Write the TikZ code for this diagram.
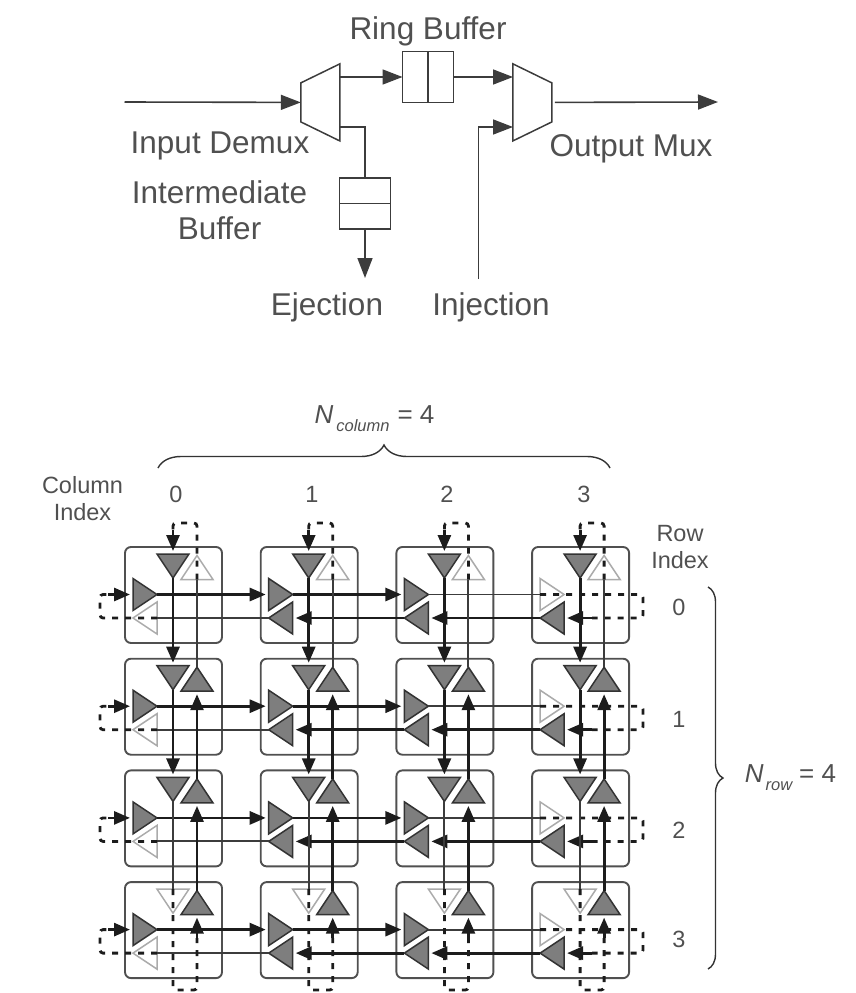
\documentclass[tikz,border=0pt]{standalone}
\usepackage{fontspec}
\setmainfont{Liberation Sans}
\usetikzlibrary{arrows.meta, shapes.geometric, decorations.pathreplacing}
\definecolor{wirecol}{HTML}{1C1C1C}
\definecolor{thincol}{HTML}{3C3C3C}
\definecolor{textcol}{HTML}{505050}
\definecolor{trifill}{HTML}{7E7E7E}
\definecolor{tridraw}{HTML}{333333}
\definecolor{offdraw}{HTML}{ABABAB}
\definecolor{boxdraw}{HTML}{505050}
\tikzset{
	bigtext/.style={text=textcol, font=\fontsize{31.5}{36}\selectfont, align=center, inner sep=0pt},
	smalltext/.style={text=textcol, font=\fontsize{23.5}{27}\selectfont, align=center, inner sep=0pt},
	bufbox/.style={draw=thincol, line width=1.5pt, minimum width=51pt, minimum height=51pt, inner sep=0pt, outer sep=0pt},
	muxshape/.style={trapezium, draw=thincol, line width=1.5pt, trapezium left angle=64, trapezium right angle=64, minimum width=77pt, minimum height=39pt, inner sep=1pt, outer sep=0pt},
	flow/.style={draw=thincol, line width=1.6pt},
	flowarr/.style={flow, -{Triangle[length=20pt,width=15pt]}},
	routerbox/.style={draw=boxdraw, line width=1.9pt, rounded corners=6pt, minimum width=97pt, minimum height=96pt, inner sep=0pt},
	tribase/.style={isosceles triangle, isosceles triangle stretches, inner sep=1pt, outer sep=0pt, minimum width=32pt, minimum height=24pt, anchor=lower side, preaction={draw=white, line width=4.5pt}},
	tripon/.style={tribase, draw=tridraw, fill=trifill, line width=1.5pt},
	tripoff/.style={tribase, draw=offdraw, fill=white, line width=1.5pt},
	wireon/.style={draw=wirecol, line width=2.8pt, -{Triangle[length=16pt,width=13pt]}, shorten >=3pt},
	wireoff/.style={draw=thincol, line width=1.9pt},
	wiredash/.style={draw=wirecol, line width=2.8pt, dash pattern=on 6pt off 7pt, rounded corners=3pt},
}
\begin{document}
\begin{tikzpicture}[x=1pt, y=-1pt]
	\useasboundingbox (0,0) rectangle (856,993);

	\node[muxshape, rotate=90] (demux) at (320.3,102.4) {};
	\node[muxshape, rotate=-90] (mux) at (532.4,102.4) {};
	\node[bufbox] (ringbuf) at (428,77) {};
	\node[bufbox] (interbuf) at (365,203.5) {};
	\draw[flow] (ringbuf.north) -- (ringbuf.south);
	\draw[flow] (interbuf.west) -- (interbuf.east);
	\coordinate (inport) at (124.5,102);
	\coordinate (outport) at (718,102);
	\coordinate (demuxa) at (340,77);
	\coordinate (demuxb) at (340,127);
	\coordinate (muxa) at (513,77);
	\coordinate (muxb) at (513,127);
	\coordinate (ejectend) at (365,278);
	\coordinate (injectend) at (478.4,279);
	\draw[flowarr] (inport) -- (demux.top side);
	\draw[flowarr] (demuxa) -- (ringbuf.west);
	\draw[flowarr] (ringbuf.east) -- (muxa);
	\draw[flowarr, shorten <=3pt] (mux.top side) -- (outport);
	\draw[flow] (demuxb) -| (interbuf.north);
	\draw[flowarr] (interbuf.south) -- (ejectend);
	\draw[flowarr] (injectend) |- (muxb);

	\node[bigtext] (ringlabel) at (428,31) {Ring Buffer};
	\node[bigtext] (demuxlabel) at (220,146) {Input Demux};
	\node[bigtext] (bufferlabel) at (219.5,210) {Intermediate\\Buffer};
	\node[bigtext] (ejectlabel) at (327,307) {Ejection};
	\node[bigtext] (injectlabel) at (491,307) {Injection};
	\node[bigtext] (muxlabel) at (631,149) {Output Mux};

	\foreach \r in {0,...,3} {
		\foreach \c in {0,...,3} {
			\pgfmathsetmacro\bx{125+135.7*\c}
			\pgfmathsetmacro\by{547+111.7*\r}
			\ifnum\c=3 \def\estyle{tripoff}\else\def\estyle{tripon}\fi
			\ifnum\c=0 \def\wstyle{tripoff}\else\def\wstyle{tripon}\fi
			\ifnum\r=3 \def\sstyle{tripoff}\else\def\sstyle{tripon}\fi
			\ifnum\r=0 \def\nstyle{tripoff}\else\def\nstyle{tripon}\fi
			\node[routerbox] (b\r\c) at (\bx+48.5,\by+48) {};
			\node[\sstyle, shape border rotate=270] (s\r\c) at (\bx+48,\by+7) {};
			\node[\nstyle, shape border rotate=90] (n\r\c) at (\bx+72,\by+32.5) {};
			\node[\estyle, shape border rotate=0] (e\r\c) at (\bx+8,\by+47.5) {};
			\node[\wstyle, shape border rotate=180] (w\r\c) at (\bx+32,\by+71) {};
		}
	}

	\foreach \r in {0,...,3} {
		\foreach \c/\nx in {0/1,1/2} \draw[wireon] (e\r\c.apex) -- (e\r\nx.lower side);
		\draw[wireoff] (e\r2.apex) -- (e\r3.lower side);
		\foreach \c/\nx in {3/2,2/1} \draw[wireon] (w\r\c.apex) -- (w\r\nx.lower side);
		\draw[wireoff] (w\r1.apex) -- (w\r0.lower side);
		\pgfmathsetmacro\ey{594.5+111.7*\r}
		\pgfmathsetmacro\wy{618+111.7*\r}
		\coordinate (re\r) at (643,\ey);
		\coordinate (rw\r) at (643,\wy);
		\coordinate (ra\r) at (592,\wy);
		\coordinate (le\r) at (100,\ey);
		\coordinate (lw\r) at (100,\wy);
		\coordinate (la\r) at (108,\ey);
		\draw[wiredash] (e\r3.lower side) -- (re\r) -- (rw\r) -- (ra\r);
		\draw[wireon] (ra\r) -- (w\r3.lower side);
		\draw[wiredash] (w\r0.lower side) -- (lw\r) -- (le\r) -- (la\r);
		\draw[wireon] (la\r) -- (e\r0.lower side);
	}
	\foreach \c in {0,...,3} {
		\foreach \r/\nx in {0/1,1/2} \draw[wireon] (s\r\c.apex) -- (s\nx\c.lower side);
		\draw[wireoff] (s2\c.apex) -- (s3\c.lower side);
		\foreach \r/\nx in {3/2,2/1} \draw[wireon] (n\r\c.apex) -- (n\nx\c.lower side);
		\draw[wireoff] (n1\c.apex) -- (n0\c.lower side);
		\pgfmathsetmacro\sx{173+135.7*\c}
		\pgfmathsetmacro\nwx{197+135.7*\c}
		\coordinate (ts\c) at (\sx,523);
		\coordinate (tn\c) at (\nwx,523);
		\coordinate (ta\c) at (\sx,530);
		\coordinate (bs\c) at (\sx,990);
		\coordinate (bn\c) at (\nwx,990);
		\coordinate (ba\c) at (\nwx,938);
		\draw[wiredash] (n0\c.lower side) -- (tn\c) -- (ts\c) -- (ta\c);
		\draw[wireon] (ta\c) -- (s0\c.lower side);
		\draw[wiredash] (s3\c.lower side) -- (bs\c) -- (bn\c) -- (ba\c);
		\draw[wireon] (ba\c) -- (n3\c.lower side);
	}

	\foreach \c/\x in {0/176,1/312,2/447,3/584} \node[smalltext] (cidx\c) at (\x,494) {\c};
	\foreach \r/\y in {0/607,1/719,2/830,3/939} \node[smalltext] (ridx\r) at (679,\y) {\r};
	\node[smalltext] (collabel) at (82.5,499) {Column\\Index};
	\node[smalltext] (rowlabel) at (680,547) {Row\\Index};
	\coordinate (bracea) at (158,468);
	\coordinate (braceb) at (610,468);
	\coordinate (bracec) at (708,587);
	\coordinate (braced) at (708,969);
	\draw[draw=tridraw, line width=1.4pt, decorate, decoration={brace, amplitude=23pt}] (bracea) -- (braceb);
	\draw[draw=tridraw, line width=1.4pt, decorate, decoration={brace, amplitude=15pt}] (bracec) -- (braced);
	\node[smalltext, font=\fontsize{26}{30}\selectfont] (ncolumn) at (374.5,419) {\textit{N}\hspace{3pt}\raisebox{-8pt}{\fontsize{16.5}{18}\selectfont\textit{column}}\hspace{8pt}= 4};
	\node[smalltext, font=\fontsize{26}{30}\selectfont] (nrow) at (790.5,778) {\textit{N}\hspace{2pt}\raisebox{-8pt}{\fontsize{16.5}{18}\selectfont\textit{row}}\hspace{6pt}= 4};
\end{tikzpicture}
\end{document}
